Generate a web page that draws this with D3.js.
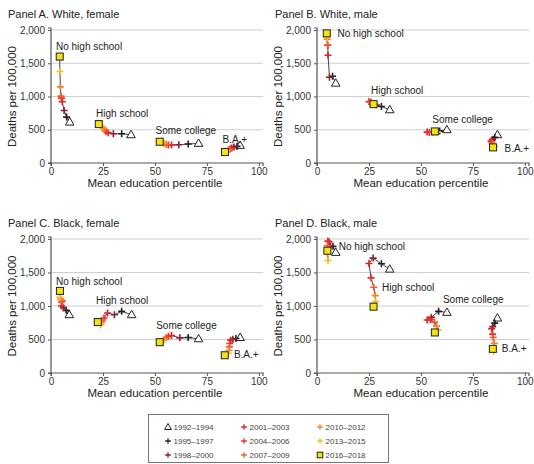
<!DOCTYPE html>
<html>
<head>
<meta charset="utf-8">
<script src="https://cdn.jsdelivr.net/npm/d3@7"></script>
<style>
  body { margin: 0; background: #fff; }
  svg { display: block; font-family: "Liberation Sans", Arial, Helvetica, sans-serif; }
</style>
</head>
<body>
<script>
const width = 534, height = 464;

// periods, in drawing order (first is the triangle, last is the square)
const periods = ["1992–1994", "1995–1997", "1998–2000", "2001–2003", "2004–2006",
                 "2007–2009", "2010–2012", "2013–2015", "2016–2018"];
const periodColors = ["#333333", "#222222", "#8e1f2e", "#d3262b", "#ee2b25",
                      "#f35a2c", "#f5822d", "#fbbb2a", "#f2e311"];
const groups = ["No high school", "High school", "Some college", "B.A.+"];
const panelTitles = ["Panel A. White, female", "Panel B. White, male",
                     "Panel C. Black, female", "Panel D. Black, male"];
const yTicks = [0, 500, 1000, 1500, 2000];
const xTicks = [0, 25, 50, 75, 100];

// mean education percentile, one row per education group, one value per period
const whiteFemalePct = [
  [9.0, 7.5, 6.3, 5.4, 5.0, 4.8, 4.5, 4.3, 4.2],
  [38.5, 34.0, 30.0, 27.5, 26.5, 26.0, 25.3, 24.5, 23.0],
  [71.0, 66.0, 61.5, 58.0, 56.5, 55.5, 54.5, 53.5, 52.3],
  [91.0, 89.5, 88.0, 87.0, 86.3, 85.8, 85.2, 84.5, 83.7]
];
const whiteFemaleDeaths = [
  [615, 690, 790, 920, 975, 1005, 1145, 1375, 1600],
  [425, 440, 440, 455, 470, 490, 520, 550, 585],
  [295, 285, 275, 270, 272, 280, 290, 305, 320],
  [265, 250, 240, 225, 215, 205, 195, 180, 165]
];
const whiteMalePct = [
  [9.0, 7.5, 6.0, 5.3, 5.2, 5.0, 4.9, 4.8, 4.7],
  [35.0, 31.0, 28.5, 26.0, 25.0, 25.5, 26.5, 28.0, 27.2],
  [62.5, 59.0, 56.0, 53.0, 54.0, 55.5, 57.0, 58.0, 56.7],
  [86.8, 85.5, 84.5, 83.8, 83.8, 84.3, 85.0, 85.5, 84.7]
];
const whiteMaleDeaths = [
  [1200, 1305, 1290, 1620, 1770, 1775, 1860, 1880, 1950],
  [800, 850, 875, 915, 925, 915, 900, 890, 885],
  [500, 480, 470, 465, 460, 465, 470, 465, 475],
  [425, 385, 355, 330, 320, 295, 270, 250, 235]
];
const blackFemalePct = [
  [8.8, 7.3, 6.0, 5.0, 5.0, 5.5, 4.6, 4.2, 4.3],
  [38.8, 34.0, 30.5, 27.2, 25.5, 25.0, 24.5, 24.0, 22.5],
  [71.0, 66.0, 62.0, 58.0, 56.5, 55.5, 54.5, 53.5, 52.3],
  [91.0, 89.0, 87.5, 86.5, 86.0, 85.8, 85.6, 85.3, 83.6]
];
const blackFemaleDeaths = [
  [870, 935, 975, 1000, 1060, 1080, 1100, 1130, 1225],
  [870, 920, 870, 895, 820, 790, 755, 720, 760],
  [510, 530, 525, 560, 550, 530, 505, 480, 460],
  [530, 515, 505, 490, 440, 390, 340, 295, 265]
];
const blackMalePct = [
  [9.0, 7.7, 6.5, 5.8, 5.2, 5.0, 5.0, 5.3, 5.0],
  [35.0, 31.0, 27.0, 25.0, 26.0, 27.3, 28.0, 28.2, 27.2],
  [62.5, 58.5, 55.0, 53.0, 54.5, 56.5, 57.5, 58.3, 56.7],
  [86.8, 85.5, 84.5, 84.0, 84.5, 84.8, 85.3, 85.0, 84.6]
];
const blackMaleDeaths = [
  [1800, 1890, 1900, 1960, 1970, 1900, 1780, 1680, 1825],
  [1550, 1630, 1715, 1635, 1420, 1280, 1155, 1065, 990],
  [905, 920, 830, 790, 800, 760, 700, 640, 605],
  [820, 745, 690, 660, 580, 530, 445, 325, 360]
];

const panelPct = [whiteFemalePct, whiteMalePct, blackFemalePct, blackMalePct];
const panelDeaths = [whiteFemaleDeaths, whiteMaleDeaths, blackFemaleDeaths, blackMaleDeaths];

// where the group names sit, in data units (percentile, deaths)
const labelSpots = [
  [[2.4, 1700], [21.7, 690], [50.3, 440], [82.5, 305]],
  [[9.9, 1890], [26.0, 1033], [55.5, 606], [90.2, 170]],
  [[2.4, 1313], [21.7, 1025], [50.6, 657], [88.0, 219]],
  [[10.5, 1836], [31.3, 1224], [60.6, 1040], [88.9, 318]]
];

const svg = d3.select("body").append("svg")
    .attr("width", width)
    .attr("height", height);

// panel frames: left edge of plot, top (2000) and bottom (0)
const frames = [
  {left: 51, top: 30, bottom: 163, titleX: 8, titleY: 18},
  {left: 317, top: 30, bottom: 163, titleX: 275, titleY: 18},
  {left: 51, top: 239, bottom: 373, titleX: 8, titleY: 227},
  {left: 317, top: 239, bottom: 373, titleX: 275, titleY: 227}
];

function plusPath(r) {
  return "M" + (-r) + ",0H" + r + "M0," + (-r) + "V" + r;
}

function drawMarker(g, i, cx, cy, k) {
  k = k || 1;
  if (i === 0) {
    g.append("path")
        .attr("d", d3.symbol(d3.symbolTriangle, 32 * k * k)())
        .attr("transform", "translate(" + cx + "," + (cy + 0.5) + ")")
        .style("fill", "#fff")
        .style("stroke", "#222")
        .style("stroke-width", 1);
  } else if (i === periods.length - 1) {
    g.append("rect")
        .attr("x", cx - 3.5 * k).attr("y", cy - 3.5 * k)
        .attr("width", 7 * k).attr("height", 7 * k)
        .style("fill", periodColors[i])
        .style("stroke", "#222")
        .style("stroke-width", 1);
  } else {
    g.append("path")
        .attr("d", plusPath(3.5 * k))
        .attr("transform", "translate(" + cx + "," + cy + ")")
        .style("fill", "none")
        .style("stroke", periodColors[i])
        .style("stroke-width", 1.6 * k);
  }
}

function drawPanel(p) {
  const f = frames[p];
  const x = d3.scaleLinear().domain([0, 102]).range([f.left, f.left + 212]);
  const y = d3.scaleLinear().domain([0, 2000]).range([f.bottom, f.top]);
  const g = svg.append("g");

  g.append("text")
      .attr("x", f.titleX).attr("y", f.titleY)
      .style("font-size", "11px")
      .style("fill", "#222")
      .text(panelTitles[p]);

  // horizontal grid
  g.append("g").selectAll("line")
      .data(yTicks.filter(d => d > 0))
      .enter().append("line")
      .attr("x1", x(0)).attr("x2", x(102))
      .attr("y1", d => y(d)).attr("y2", d => y(d))
      .style("stroke", "#cfcfcf")
      .style("stroke-width", 1);

  const yAxis = g.append("g")
      .attr("transform", "translate(" + x(0) + ",0)")
      .call(d3.axisLeft(y).tickValues(yTicks).tickSize(3).tickPadding(3)
        .tickFormat(d3.format(",")));
  const xAxis = g.append("g")
      .attr("transform", "translate(0," + y(0) + ")")
      .call(d3.axisBottom(x).tickValues(xTicks).tickSize(3).tickPadding(2));
  [yAxis, xAxis].forEach(a => {
    a.select(".domain").style("stroke", "#555").attr("stroke-width", 1.2);
    a.selectAll(".tick line").style("stroke", "#555");
    a.selectAll("text").style("font-size", "10px").style("fill", "#333")
        .style("font-family", "Liberation Sans, Arial, sans-serif");
  });
  yAxis.select(".domain").attr("d", "M-3," + y(2030) + "H0V" + y(0) + "H-3");
  xAxis.select(".domain").attr("d", "M" + x(0) + ",3V0H" + x(102) + "V3");

  g.append("text")
      .attr("transform", "translate(" + (f.left - 35) + "," + ((f.top + f.bottom) / 2) + ") rotate(-90)")
      .attr("text-anchor", "middle")
      .style("font-size", "11.5px")
      .style("fill", "#222")
      .text("Deaths per 100,000");
  g.append("text")
      .attr("x", (x(0) + x(100)) / 2).attr("y", f.bottom + 24)
      .attr("text-anchor", "middle")
      .style("font-size", "11.5px")
      .style("fill", "#222")
      .text("Mean education percentile");

  const pct = panelPct[p], deaths = panelDeaths[p];
  groups.forEach((name, k) => {
    const pts = pct[k].map((v, i) => [x(v), y(deaths[k][i])]);
    g.append("path")
        .attr("d", d3.line()(pts))
        .style("fill", "none")
        .style("stroke", "#444")
        .style("stroke-width", 1);
    pts.forEach((pt, i) => drawMarker(g, i, pt[0], pt[1]));
    g.append("text")
        .attr("x", x(labelSpots[p][k][0]))
        .attr("y", y(labelSpots[p][k][1]))
        .style("font-size", "10px")
        .style("fill", "#222")
        .text(name);
  });
}

[0, 1, 2, 3].forEach(drawPanel);

// legend
const legend = svg.append("g");
legend.append("rect")
    .attr("x", 148.5).attr("y", 414.5)
    .attr("width", 240).attr("height", 48)
    .style("fill", "#fff")
    .style("stroke", "#777")
    .style("stroke-width", 1);
const colX = [168, 244, 320], rowY = [427, 441, 455];
periods.forEach((label, i) => {
  const cx = colX[Math.floor(i / 3)], cy = rowY[i % 3];
  drawMarker(legend, i, cx, cy, 0.8);
  legend.append("text")
      .attr("x", cx + 5.5).attr("y", cy + 3)
      .style("font-size", "8px")
      .style("fill", "#444")
      .text(label);
});
</script>
</body>
</html>
